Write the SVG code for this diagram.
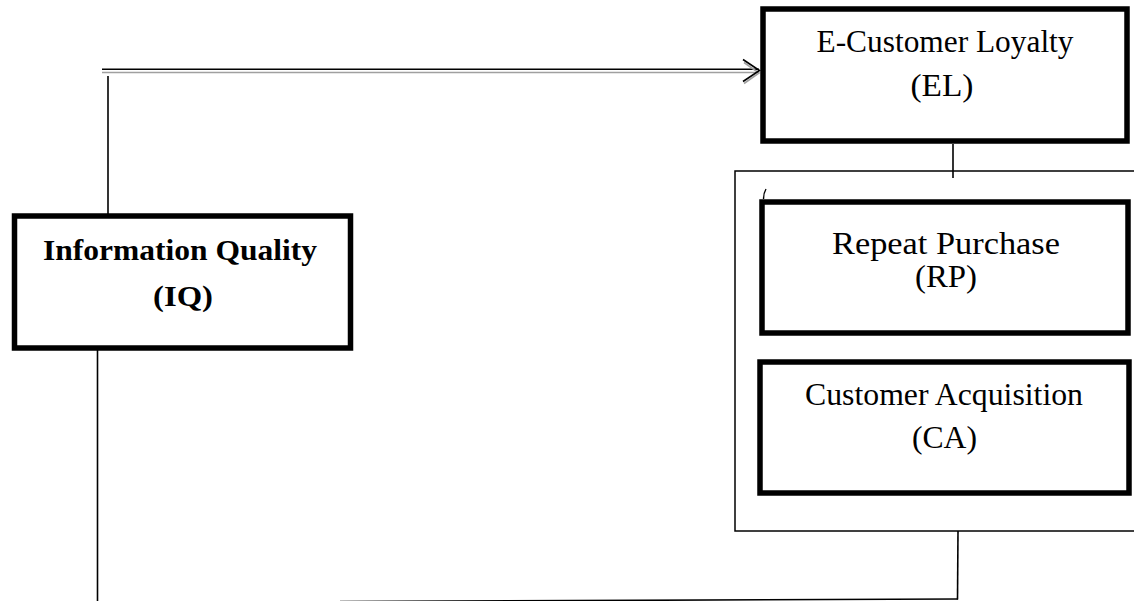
<svg xmlns="http://www.w3.org/2000/svg" width="1134" height="601" viewBox="0 0 1134 601">
<style>
.box{fill:#fff;stroke:#000;stroke-width:5.5}
.frame{fill:none;stroke:#000;stroke-width:1.5}
.ln{fill:none;stroke:#000;stroke-width:1.6}
.sh{fill:none;stroke:#a0a0a0;stroke-width:1.6}
.t{font-family:"Liberation Serif","Times New Roman",serif;font-size:31px;text-anchor:middle;fill:#000}
.b{font-weight:bold;font-size:29px}
</style>
<rect width="1134" height="601" fill="#fff"/>
<g id="container">
<rect class="frame" x="735" y="171" width="410" height="360"/>
<path d="M766,189 Q763.5,193 763.5,199" fill="none" stroke="#000" stroke-width="1.4"/>
</g>
<g id="connectors">
<line class="sh" x1="102" y1="72.5" x2="757" y2="72.5"/>
<line class="ln" x1="102" y1="69.2" x2="759" y2="69.2"/>
<polyline class="sh" points="744,62.5 759,73 744,83.5"/>
<polyline class="ln" points="743,59.5 759.5,70.5 743,81.5"/>
<line class="ln" x1="108" y1="76" x2="108" y2="214" stroke-width="2"/>
<line class="ln" x1="953" y1="144" x2="953" y2="178"/>
<line class="ln" x1="97.5" y1="350" x2="97.5" y2="601" stroke-width="2"/>
<line class="ln" x1="340" y1="601.5" x2="958" y2="599" stroke-width="1.8"/>
<line class="ln" x1="958" y1="531" x2="957.5" y2="599.5" stroke-width="2"/>
</g>
<g id="EL">
<rect class="box" x="763" y="9" width="364" height="132"/>
<text class="t" x="945" y="52" textLength="257" lengthAdjust="spacingAndGlyphs">E-Customer Loyalty</text>
<text class="t" x="942" y="96" textLength="63" lengthAdjust="spacingAndGlyphs">(EL)</text>
</g>
<g id="RP">
<rect class="box" x="762" y="202" width="366" height="131"/>
<text class="t" x="946" y="254" textLength="228" lengthAdjust="spacingAndGlyphs">Repeat Purchase</text>
<text class="t" x="946" y="287" textLength="62" lengthAdjust="spacingAndGlyphs">(RP)</text>
</g>
<g id="CA">
<rect class="box" x="760" y="362" width="369" height="131"/>
<text class="t" x="944" y="405" textLength="278" lengthAdjust="spacingAndGlyphs">Customer Acquisition</text>
<text class="t" x="944.5" y="448" textLength="65" lengthAdjust="spacingAndGlyphs">(CA)</text>
</g>
<g id="IQ">
<rect class="box" x="14.5" y="216" width="336" height="132"/>
<text class="t b" x="180" y="260" textLength="274" lengthAdjust="spacingAndGlyphs">Information Quality</text>
<text class="t b" x="183" y="306" textLength="60" lengthAdjust="spacingAndGlyphs">(IQ)</text>
</g>
</svg>
